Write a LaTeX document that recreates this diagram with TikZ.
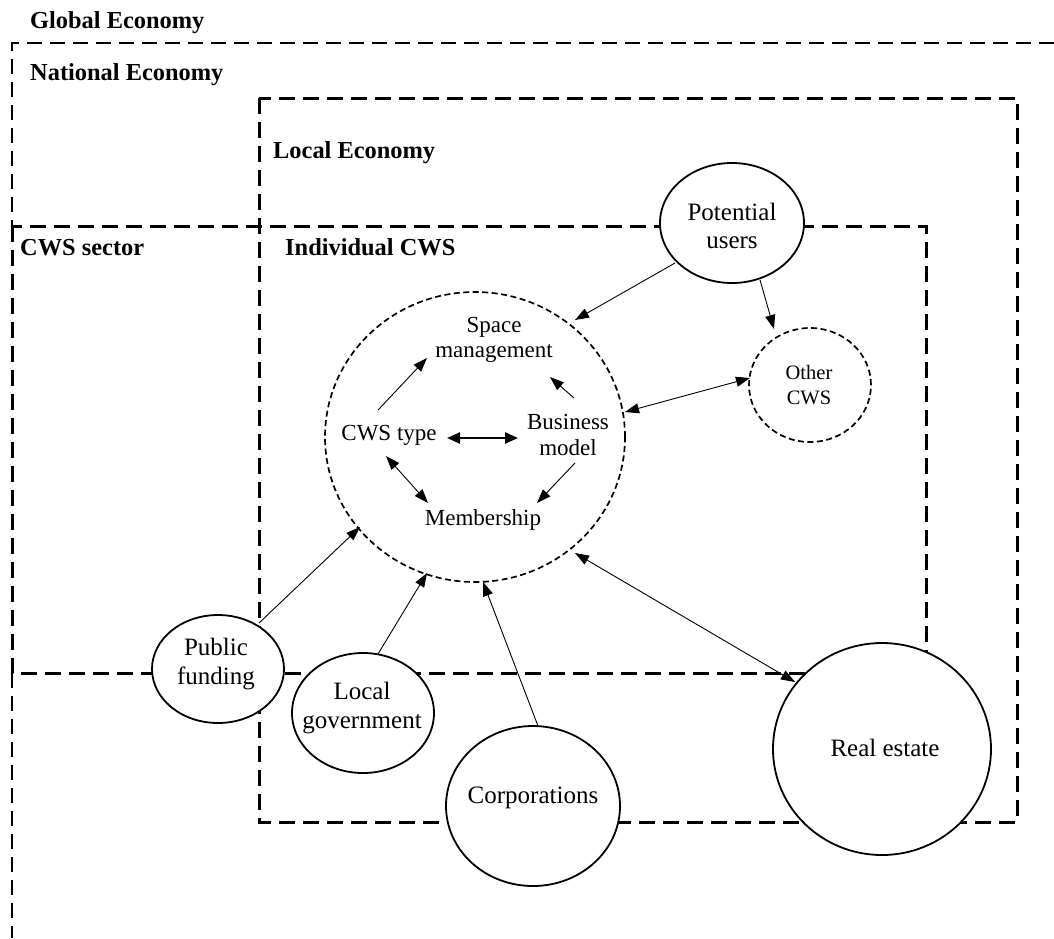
\documentclass[tikz,border=0pt]{standalone}
\usepackage{fontspec}
\setmainfont{Liberation Serif}
\usetikzlibrary{shapes.geometric,arrows.meta,calc}
\begin{document}
\begin{tikzpicture}[x=1pt,y=-1pt,
  lbl/.style={font=\fontsize{24.4}{29}\selectfont\bfseries, anchor=base west, inner sep=0pt},
  ent/.style={ellipse, draw, line width=1.8pt, fill=white, inner sep=0pt},
  etext/.style={align=center, inner sep=0pt, font=\fontsize{25}{28.5}\selectfont},
  intext/.style={align=center, inner sep=0pt, font=\fontsize{23}{25.5}\selectfont},
  conn/.style={line width=0.9pt, -{Triangle[length=14pt,width=10pt]}},
  bidir/.style={line width=0.9pt, {Triangle[length=14pt,width=10pt]}-{Triangle[length=14pt,width=10pt]}},
  thickbidir/.style={line width=2.4pt, {Triangle[length=13pt,width=11pt]}-{Triangle[length=13pt,width=11pt]}},
  natbox/.style={line width=1.8pt, dash pattern=on 15pt off 8pt},
  secbox/.style={line width=3pt, dash pattern=on 16pt off 8pt},
  cwscircle/.style={ellipse, draw, line width=1.7pt, dash pattern=on 6pt off 3.5pt, fill=white, inner sep=0pt},
]
\useasboundingbox (0,0) rectangle (1054,938);
\fill[white] (0,0) rectangle (1054,938);

% boxes
\draw[natbox] (1054,43) -- (12,43) -- (12,226);
\draw[natbox] (12,673) -- (12,938);
\draw[secbox] (259,98) rectangle (1017,822);
\draw[secbox] (12,226) rectangle (926,673);

% box labels
\node[lbl] (ge) at (30,28) {Global Economy};
\node[lbl] (ne) at (30,80) {National Economy};
\node[lbl] (le) at (273,158) {Local Economy};
\node[lbl] (cs) at (20,255) {CWS sector};
\node[lbl] (ic) at (285,255) {Individual CWS};

% individual CWS circle and its parts
\node[cwscircle, minimum width=300pt, minimum height=290pt] (big) at (475,437) {};
\node[intext] (sm) at (494,340) {Space\\management};
\node[intext] (ct) at (389,435) {CWS type};
\node[intext] (bm) at (568,435) {Business\\model};
\node[intext] (mem) at (483,520) {Membership};

% outside actors
\node[ent, minimum width=144pt, minimum height=120pt] (pu) at (732,223) {};
\node[etext] (put) at (732,226) {Potential\\users};
\node[cwscircle, minimum width=122pt, minimum height=114pt] (oc) at (810,385) {};
\node[align=center, inner sep=0pt, font=\fontsize{20.5}{25}\selectfont] (oct) at (809,385) {Other\\CWS};
\node[ent, minimum width=132pt, minimum height=108pt] (pf) at (218,669) {};
\node[etext] (pft) at (216,664) {Public\\funding};
\node[ent, minimum width=142pt, minimum height=120pt] (lg) at (363,713) {};
\node[etext] (lgt) at (362,708) {Local\\government};
\node[ent, minimum width=174pt, minimum height=160pt] (corp) at (533,806) {};
\node[etext] (corpt) at (533,798) {Corporations};
\node[ent, minimum width=218pt, minimum height=212pt] (re) at (882,749) {};
\node[etext] (ret) at (885,748) {Real estate};

% inner arrows
\draw[conn] ($(ct)+(-11,-25)$) -- ($(sm)+(-67,18)$);
\draw[conn] ($(bm)+(6,-37)$) -- ($(sm)+(56,37)$);
\draw[thickbidir] ($(ct)+(58,3)$) -- ($(bm)+(-50,3)$);
\draw[bidir] ($(ct)+(-3,21)$) -- ($(mem)+(-55,-17)$);
\draw[conn] ($(bm)+(7,28)$) -- ($(mem)+(54,-17)$);

% outer arrows
\draw[conn] ($(pu)+(-57,40)$) -- ($(big)+(100,-117)$);
\draw[conn] ($(pu)+(28,57)$) -- ($(oc)+(-36,-56)$);
\draw[bidir] ($(big)+(150,-25)$) -- ($(oc)+(-60,-7)$);
\draw[conn] ($(pf)+(41,-46)$) -- ($(big)+(-115,90)$);
\draw[conn] ($(lg)+(15,-59)$) -- ($(big)+(-48,136)$);
\draw[conn] ($(corp)+(5,-80)$) -- ($(big)+(8,145)$);
\draw[bidir] ($(big)+(100,116)$) -- ($(re)+(-87,-67)$);
\end{tikzpicture}
\end{document}
